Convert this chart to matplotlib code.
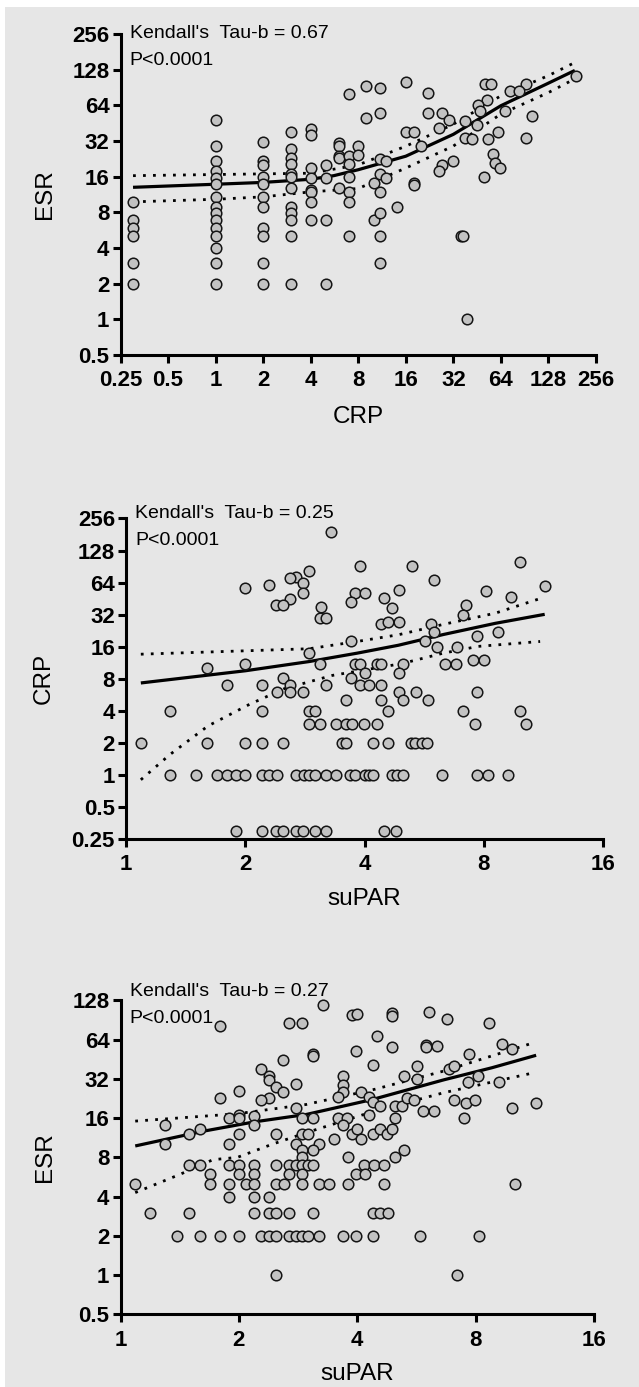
import matplotlib
matplotlib.use("Agg")
import matplotlib.pyplot as plt
from matplotlib.patches import Rectangle
from matplotlib.ticker import FixedLocator, NullLocator

plt.rcParams['font.family'] = ['Liberation Sans', 'DejaVu Sans']

BG = "#e6e6e6"
FILL = "#c2c2c2"

# ---------------- panel 1 : ESR vs CRP ----------------
crp_p1 = [192, 51, 55, 92, 73, 83, 16, 22, 9, 11, 7, 52, 46, 47, 22, 27, 30, 38, 45, 68,
          100, 26, 38, 42, 53, 61, 92, 20, 16, 18, 57, 59, 63, 50, 32, 27, 26, 18, 9, 11,
          0.3, 0.3, 0.3, 0.3, 0.3, 0.3,
          1, 1, 1, 1, 1, 1, 1, 1, 1, 1, 1, 1, 1, 1, 1,
          2, 2, 2, 2, 2, 2, 2, 2, 2, 2, 2,
          3, 3, 3, 3, 3, 3, 3, 3, 3, 3, 3, 3,
          4, 4, 4, 4, 4, 4, 4, 4,
          5, 5, 5, 5,
          6, 6, 6, 6, 6,
          7, 7, 7, 7, 7, 7,
          8, 8, 10, 10,
          11, 11, 11, 11, 11, 11,
          12, 12, 14, 18, 36, 37, 39]
esr_p1 = [113, 97, 97, 96, 84, 84, 101, 82, 93, 90, 79, 71, 64, 57, 55, 55, 48, 47, 44, 57,
          52, 41, 34, 33, 33, 38, 34, 29, 38, 38, 25, 21, 19, 16, 21.6, 20, 18, 14, 50, 55,
          9.8, 6.9, 5.9, 5.0, 3.0, 2.0,
          48, 29, 21.6, 17.7, 15.7, 13.8, 10.8, 8.9, 7.9, 6.9, 5.9, 5.0, 4.0, 3.0, 2.0,
          31.5, 21.6, 19.9, 16, 13.8, 10.8, 8.9, 5.9, 5.0, 3.0, 2.0,
          38, 27.5, 23, 20.5, 17, 16, 12.8, 8.9, 7.9, 6.9, 5.0, 2.0,
          40, 36, 19, 15.7, 12.3, 11.8, 9.8, 6.9,
          20, 15.7, 6.9, 2.0,
          30.8, 29, 24, 22.8, 12.9,
          24, 20.6, 16, 11.8, 9.8, 5.0,
          29, 24.5, 14, 6.9,
          22.6, 17, 11.8, 7.9, 5.0, 3.0,
          21.6, 15.7, 8.9, 13.6, 5.0, 5.0, 1.0]
fit1_x = [0.3, 1, 2, 4, 5.6, 8, 16, 32, 64, 125, 188]
fit1_y = [13.0, 13.8, 14.3, 15.2, 16.3, 18.3, 23.8, 36.4, 63.5, 97, 126]
up1_x = [0.3, 4, 8, 16, 32, 64, 128, 188]
up1_y = [16.3, 17.1, 20.1, 28.9, 44.3, 77, 114, 147]
lo1_x = [0.3, 1, 2, 4, 8, 16, 32, 64, 128, 188]
lo1_y = [9.8, 10.3, 10.8, 11.9, 12.7, 18.9, 29, 54, 82, 107]

# ---------------- panel 2 : CRP vs suPAR ----------------
supar_p2 = [3.29, 9.9, 5.28, 3.9, 2.9, 2.69, 2.59, 2.8, 5.99, 2.29, 2.0, 11.4, 2.8, 3.79, 4.0,
            8.1, 4.89, 4.49, 2.6, 2.39, 2.49, 3.7, 9.36, 3.1, 4.7, 7.2, 3.09, 3.19, 7.09, 4.39,
            4.59, 4.89, 5.87, 6.0, 8.67, 3.7, 5.7, 7.69, 6.1, 6.85, 2.9, 6.39, 6.81, 7.5, 8.0,
            1.6, 2.0, 3.09, 3.79, 3.9, 4.3, 4.4, 4.99, 4.89, 4.0, 2.49, 3.7,
            1.8, 2.2, 2.6, 3.19, 3.9, 4.1, 4.4,
            2.4, 2.6, 2.8, 4.89, 5.4, 7.7,
            3.6, 4.39, 4.99, 5.8,
            1.29, 2.2, 2.9, 3.0, 4.59, 7.09, 9.88,
            2.9, 3.09, 3.39, 3.6, 3.71, 3.99, 4.3, 7.6, 10.2,
            1.09, 1.6, 2.0, 2.2, 2.49, 3.5, 3.6, 4.19, 4.59, 5.23, 5.36, 5.6, 5.74,
            1.29, 1.5, 1.7, 1.8, 1.89, 2.0, 2.2, 2.3, 2.4, 2.69, 2.81, 2.9, 3.0, 3.19,
            3.39, 3.68, 3.79, 4.02, 4.1, 4.19, 4.68, 4.82, 4.99, 6.29, 7.7, 8.2, 9.2,
            1.89, 2.2, 2.39, 2.49, 2.69, 2.8, 3.0, 3.19, 4.49, 4.79]
crp_p2 = [190, 100, 92, 91, 82, 72, 70, 64, 67, 61, 57, 59, 51, 51, 51,
          53, 55, 46, 45, 39, 39, 42, 47, 38, 37, 39, 30, 30, 32, 26,
          27, 27, 26, 22, 22, 18, 18, 20, 16, 16, 14, 11, 11, 12, 12,
          10, 11, 11, 11, 11, 11, 11, 11, 9, 9, 8.2, 8.2,
          7, 7, 7, 7, 7, 7, 7,
          6, 6, 6, 6, 6, 6,
          5, 5, 5, 5,
          4, 4, 4, 4, 4, 4, 4,
          3, 3, 3, 3, 3, 3, 3, 3, 3,
          2, 2, 2, 2, 2, 2, 2, 2, 2, 2, 2, 2, 2,
          1, 1, 1, 1, 1, 1, 1, 1, 1, 1, 1, 1, 1, 1,
          1, 1, 1, 1, 1, 1, 1, 1, 1, 1, 1, 1, 1,
          0.3, 0.3, 0.3, 0.3, 0.3, 0.3, 0.3, 0.3, 0.3, 0.3]
fit2_x = [1.09, 2.0, 2.9, 3.83, 4.87, 6.32, 8.55, 11.4]
fit2_y = [7.3, 9.5, 11.6, 13.9, 16.5, 20.8, 26.5, 32.2]
up2_x = [1.09, 2.9, 3.83, 4.87, 6.32, 8.55, 11.0]
up2_y = [13.6, 15.3, 17.9, 20.7, 25.9, 33, 44.8]
lo2_x = [1.09, 1.29, 1.61, 2.05, 2.51, 3.32, 4.97, 6.32, 7.74, 11.1]
lo2_y = [0.9, 1.55, 2.88, 4.6, 6.45, 8.6, 11.1, 13.9, 16.1, 17.9]

# ---------------- panel 3 : ESR vs suPAR ----------------
supar_p3 = [3.28, 1.79, 2.68, 2.89, 3.88, 3.99, 4.89, 4.89, 6.1, 6.78, 8.67, 4.49, 5.99, 5.99,
            6.39, 4.89, 3.98, 9.36, 9.88, 3.09, 3.09, 7.68, 2.59, 4.38, 2.28, 5.68, 6.85, 7.06,
            2.38, 2.39, 3.68, 3.68, 3.68, 5.27, 5.68, 8.1, 7.65, 9.18, 2.8, 2.49, 2.59, 2.0,
            2.39, 2.28, 1.79, 4.1, 4.29, 4.38, 4.58, 3.58, 4.98, 5.2, 5.36, 5.57, 7.06, 7.58,
            7.97, 11.4, 9.88, 2.8, 5.89, 6.28, 7.46, 2.19, 2.19, 1.89, 2.0, 2.0, 2.89, 3.09,
            3.58, 3.77, 4.29, 4.98, 1.3, 3.68, 1.49, 1.59, 2.0, 2.49, 2.89, 2.99, 3.88, 3.99,
            4.38, 4.58, 4.77, 4.89, 3.49, 4.1, 1.3, 1.89, 2.8, 3.19, 2.89, 3.09, 3.78, 4.98,
            5.27, 2.89,
            1.49, 1.59, 1.89, 2.0, 2.19, 2.49, 2.68, 2.8, 2.89, 2.99, 3.09, 4.16, 4.4, 4.67,
            1.69, 2.0, 2.19, 2.68, 2.89, 3.98, 4.18,
            1.09, 1.69, 1.89, 2.09, 2.19, 2.49, 2.6, 2.89, 3.19, 3.38, 3.78, 4.67, 10.1,
            1.89, 2.19, 2.39,
            1.19, 1.49, 2.19, 2.38, 2.49, 2.68, 3.09, 4.38, 4.58, 4.8,
            1.39, 1.59, 1.79, 2.0, 2.28, 2.39, 2.49, 2.68, 2.8, 2.89, 2.99, 3.19, 3.68, 3.98,
            4.38, 5.77, 8.18,
            2.49, 7.18]
esr_p3 = [118, 82, 86, 86, 99, 100, 102, 97, 105, 93, 86, 68, 58, 56,
          57, 56, 52, 59, 54, 49.5, 48, 49.5, 45, 41, 38, 40, 38, 40,
          34, 31.5, 34, 28.8, 25.6, 34, 32, 34, 30.5, 30.5, 29.5, 28, 25.4, 26,
          23, 22, 23, 25.4, 23.3, 21.3, 20, 23.3, 20, 20, 23, 22, 22, 21,
          22, 21, 19, 19, 18.2, 18.2, 16, 16.6, 14.1, 16, 17, 16, 16, 16,
          16, 16, 17, 16, 14.1, 14.1, 12.2, 13.2, 12, 12, 12, 12, 12, 13.2,
          12, 13.2, 12, 13.2, 11, 11, 10.1, 10.1, 10.1, 10.1, 9.2, 9.1, 8, 8,
          9.1, 8,
          7, 7, 7, 7, 7, 7, 7, 7, 7, 7, 7, 7, 7, 7,
          6, 6, 6, 6, 6, 6, 6,
          5, 5, 5, 5, 5, 5, 5, 5, 5, 5, 5, 5, 5,
          4, 4, 4,
          3, 3, 3, 3, 3, 3, 3, 3, 3, 3,
          2, 2, 2, 2, 2, 2, 2, 2, 2, 2, 2, 2, 2, 2,
          2, 2, 2,
          1, 1]
fit3_x = [1.09, 1.62, 2.19, 2.97, 4.38, 6.64, 8.8, 11.4]
fit3_y = [9.8, 12.7, 15.0, 17.1, 22.3, 31.5, 39, 48.6]
up3_x = [1.09, 1.98, 2.97, 4.44, 6.64, 11.3]
up3_y = [15.2, 17.3, 20.4, 26.7, 36.8, 61]
lo3_x = [1.09, 1.41, 1.72, 1.98, 2.43, 2.97, 4.44, 6.64, 11.3]
lo3_y = [4.3, 5.9, 7.7, 8.0, 10.1, 12.4, 18.2, 25.1, 35.8]

x_ticks_crp = [0.25, 0.5, 1, 2, 4, 8, 16, 32, 64, 128, 256]
x_ticks_supar = [1, 2, 4, 8, 16]
y_ticks_esr1 = [0.5, 1, 2, 4, 8, 16, 32, 64, 128, 256]
y_ticks_crp = [0.25, 0.5, 1, 2, 4, 8, 16, 32, 64, 128, 256]
y_ticks_esr3 = [0.5, 1, 2, 4, 8, 16, 32, 64, 128]

panels = [
    dict(rect=[0.1886, 0.7441, 0.7441, 0.2314], x=crp_p1, y=esr_p1,
         fit=(fit1_x, fit1_y), up=(up1_x, up1_y), lo=(lo1_x, lo1_y),
         xt=x_ticks_crp, yt=y_ticks_esr1, xlab="CRP", ylab="ESR",
         tau="Kendall's  Tau-b = 0.67", dy=-3, xpad=11),
    dict(rect=[0.1972, 0.3951, 0.7465, 0.2311], x=supar_p2, y=crp_p2,
         fit=(fit2_x, fit2_y), up=(up2_x, up2_y), lo=(lo2_x, lo2_y),
         xt=x_ticks_supar, yt=y_ticks_crp, xlab="suPAR", ylab="CRP",
         tau="Kendall's  Tau-b = 0.25", dy=0, xpad=9),
    dict(rect=[0.1886, 0.0523, 0.7410, 0.2264], x=supar_p3, y=esr_p3,
         fit=(fit3_x, fit3_y), up=(up3_x, up3_y), lo=(lo3_x, lo3_y),
         xt=x_ticks_supar, yt=y_ticks_esr3, xlab="suPAR", ylab="ESR",
         tau="Kendall's  Tau-b = 0.27", dy=3, xpad=9),
]


def fmt(v):
    return str(int(v)) if v >= 1 else ("%g" % v)


fig = plt.figure(figsize=(6.39, 13.87), dpi=100, facecolor="white")
fig.patches.append(Rectangle((5 / 639, 0), 1, 1 - 7 / 1387, transform=fig.transFigure,
                             facecolor=BG, edgecolor="none", zorder=-10))

for p in panels:
    ax = fig.add_axes(p["rect"])
    ax.patch.set_visible(False)
    ax.set_xscale("log", base=2)
    ax.set_yscale("log", base=2)
    ax.set_xlim(p["xt"][0], p["xt"][-1])
    ax.set_ylim(p["yt"][0], p["yt"][-1])

    ax.plot(*p["fit"], color="black", lw=2.3, solid_capstyle="butt", zorder=2)
    for band in (p["up"], p["lo"]):
        ax.plot(*band, color="black", lw=2.0, linestyle=(0, (1, 2.6)), zorder=2)
    ax.scatter(p["x"], p["y"], s=58, facecolor=FILL, edgecolor="#151515",
               linewidths=1.1, zorder=3, clip_on=False)

    ax.xaxis.set_major_locator(FixedLocator(p["xt"]))
    ax.yaxis.set_major_locator(FixedLocator(p["yt"]))
    ax.xaxis.set_minor_locator(NullLocator())
    ax.yaxis.set_minor_locator(NullLocator())
    ax.set_xticklabels([fmt(v) for v in p["xt"]])
    ax.set_yticklabels([fmt(v) for v in p["yt"]])
    ax.tick_params(direction="out", length=6, width=2.2, labelsize=16, color="black")
    ax.tick_params(axis="x", pad=5)
    ax.tick_params(axis="y", pad=2)
    for lab in ax.get_xticklabels() + ax.get_yticklabels():
        lab.set_fontweight("bold")

    for side in ("top", "right"):
        ax.spines[side].set_visible(False)
    for side in ("left", "bottom"):
        ax.spines[side].set_linewidth(2.2)

    ax.set_xlabel(p["xlab"], fontsize=17.5, labelpad=p["xpad"])
    ax.set_ylabel(p["ylab"], fontsize=17.5, labelpad=12)

    ax.annotate(p["tau"], xy=(0, 1), xycoords="axes fraction",
                xytext=(6.5, p["dy"]), textcoords="offset points",
                fontsize=14, va="baseline", ha="left")
    ax.annotate("P<0.0001", xy=(0, 1), xycoords="axes fraction",
                xytext=(6.5, p["dy"] - 19), textcoords="offset points",
                fontsize=14, va="baseline", ha="left")

fig.savefig("out.png", dpi=100, facecolor=fig.get_facecolor())
